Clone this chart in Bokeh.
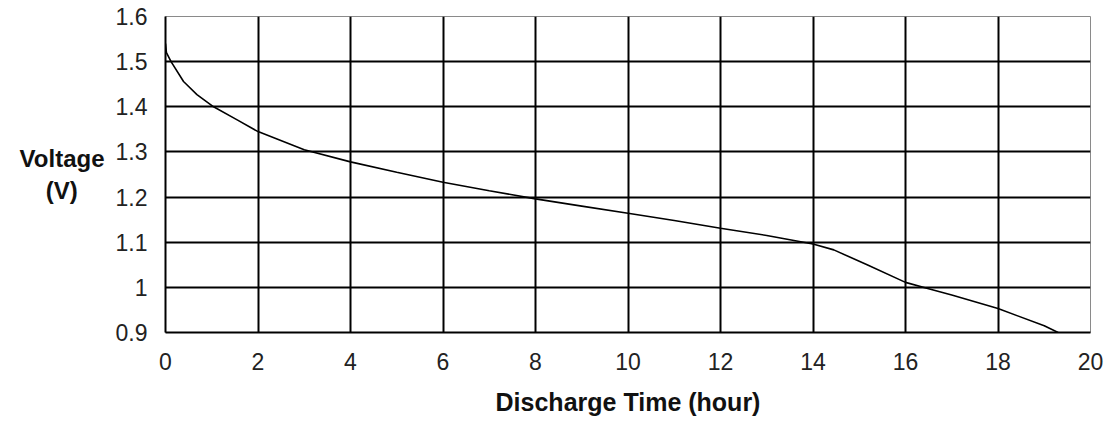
from bokeh.plotting import figure
from bokeh.models import FixedTicker, Range1d
from bokeh.embed import file_html
from bokeh.resources import INLINE

# Data
time_h = [0, 0.02, 0.12, 0.39, 0.68, 1.04, 1.55, 2, 3, 4, 5, 6, 7, 8, 9, 10,
          11, 12, 13, 14, 14.45, 15.17, 16, 16.46, 17, 18, 19, 19.3]
voltage = [1.54, 1.52, 1.50, 1.456, 1.427, 1.40, 1.371, 1.345, 1.305, 1.278,
           1.255, 1.233, 1.214, 1.196, 1.18, 1.164, 1.148, 1.131, 1.115, 1.096,
           1.083, 1.05, 1.011, 0.998, 0.983, 0.953, 0.915, 0.90]

x_ticks = [0, 2, 4, 6, 8, 10, 12, 14, 16, 18, 20]
x_tick_labels = ["0", "2", "4", "6", "8", "10", "12", "14", "16", "18", "20"]
y_ticks = [0.9, 1.0, 1.1, 1.2, 1.3, 1.4, 1.5, 1.6]
y_tick_labels = ["0.9", "1", "1.1", "1.2", "1.3", "1.4", "1.5", "1.6"]

x_title = "Discharge Time (hour)"
y_title = "Voltage\n(V)\u00a0\u00a0\u00a0\u00a0"

FONT = "Liberation Sans"

p = figure(width=1108, height=428, output_backend="svg", toolbar_location=None,
           x_range=Range1d(0, 20), y_range=Range1d(0.9, 1.6),
           min_border_left=165, min_border_top=16, min_border_right=18,
           min_border_bottom=96)

p.background_fill_color = "white"
p.border_fill_color = "white"
p.outline_line_color = "#8a8a8a"
p.outline_line_width = 1

p.xaxis.ticker = FixedTicker(ticks=x_ticks)
p.yaxis.ticker = FixedTicker(ticks=y_ticks)
p.xaxis.major_label_overrides = {t: l for t, l in zip(x_ticks, x_tick_labels)}
p.yaxis.major_label_overrides = {t: l for t, l in zip(y_ticks, y_tick_labels)}

for ax in (p.xaxis, p.yaxis):
    ax.axis_line_color = "black"
    ax.axis_line_width = 2
    ax.major_tick_out = 0
    ax.major_tick_in = 0
    ax.minor_tick_out = 0
    ax.minor_tick_in = 0
    ax.major_label_text_font = FONT
    ax.major_label_text_font_size = "23px"
    ax.major_label_text_color = "#222222"
    ax.axis_label_text_font = FONT
    ax.axis_label_text_font_style = "bold"
    ax.axis_label_text_color = "#111111"

p.xaxis.axis_label_text_font_size = "25px"
p.yaxis.axis_label_text_font_size = "24px"

p.xaxis.major_label_standoff = 20
p.yaxis.major_label_standoff = 18

p.xaxis.axis_label = x_title
p.xaxis.axis_label_standoff = 15
p.yaxis.axis_label = y_title
p.yaxis.axis_label_orientation = "horizontal"
p.yaxis.axis_label_standoff = 8

p.xgrid.ticker = FixedTicker(ticks=x_ticks[1:-1])
p.ygrid.ticker = FixedTicker(ticks=y_ticks[1:-1])
for g in (p.xgrid, p.ygrid):
    g.grid_line_color = "black"
    g.grid_line_width = 2
    g.grid_line_alpha = 1.0

p.line(time_h, voltage, line_color="black", line_width=1.6)

open("out.html", "w").write(file_html(p, INLINE))
